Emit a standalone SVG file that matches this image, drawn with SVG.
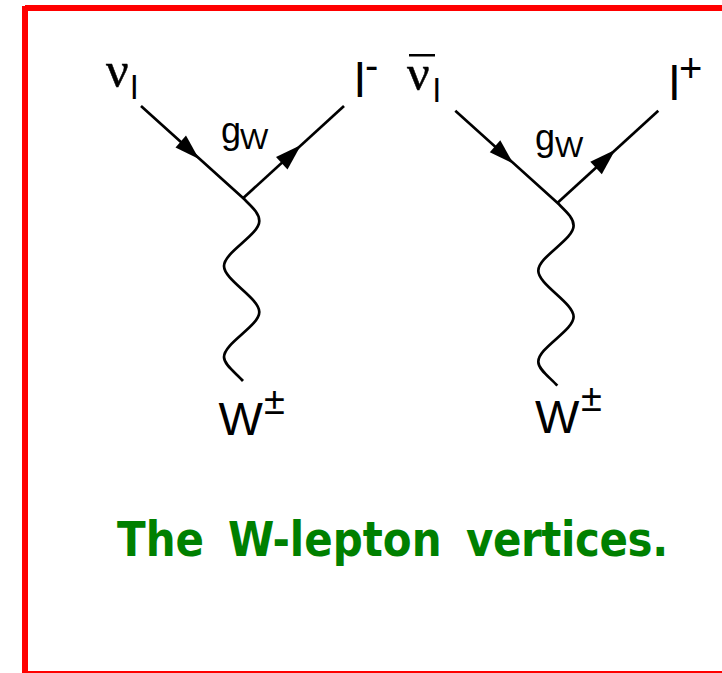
<svg xmlns="http://www.w3.org/2000/svg" width="722" height="673" viewBox="0 0 722 673">
<style>
.l{fill:none;stroke:#000;stroke-width:2.7;stroke-linecap:butt}
.h{fill:#000}
text{fill:#000;font-family:"Liberation Sans",Arial,sans-serif}
.s{font-family:"Liberation Serif","Times New Roman",serif;stroke:#000;stroke-width:.5}
.cap{fill:#008000;font-family:"DejaVu Sans",sans-serif;font-weight:bold;font-size:42px}
</style>
<defs>
<g id="diagram-lines">
<path class="l" d="M141 106L243.3 198.300C252 207 259.300 213 259.300 221C259.300 235 224 252 224 266C224 280 259.300 298 259.300 312C259.300 326 224 343 224 357C224 365 236 373 243 381"/>
<path class="l" d="M243.300 198L344 106"/>
<path class="h" d="M199 159L175.500 147.500L186 135.500Z"/>
<path class="h" d="M301 145L276 157L287.500 169.500Z"/>
</g>
</defs>
<g id="frame" fill="#f00">
<rect x="25" y="5" width="697" height="6"/>
<rect x="22" y="6" width="6" height="667"/>
<rect x="28" y="671" width="694" height="2"/>
</g>
<g id="connectors">
<use href="#diagram-lines"/>
<use href="#diagram-lines" x="314.300" y="4.700"/>
</g>
<g id="node-left-nu"><text class="s" x="106" y="87" font-size="50">ν</text><text x="130.500" y="99" font-size="34">l</text></g>
<g id="node-left-lepton"><text x="354.500" y="97" font-size="48">l</text><text x="365" y="79" font-size="40">-</text></g>
<g id="node-left-g"><text x="221" y="143" font-size="36">g</text><text x="240" y="149" font-size="30">W</text></g>
<g id="node-left-w"><text x="218.500" y="435" font-size="47">W</text><text x="264" y="414" font-size="38">±</text></g>
<g id="node-right-nu"><rect x="409" y="54" width="26" height="2.500" fill="#000"/><text class="s" x="407" y="90" font-size="50">ν</text><text x="433" y="102" font-size="34">l</text></g>
<g id="node-right-lepton"><text x="669" y="100" font-size="48">l</text><text x="679" y="82" font-size="40">+</text></g>
<g id="node-right-g"><text x="535" y="150" font-size="36">g</text><text x="555" y="157" font-size="30">W</text></g>
<g id="node-right-w"><text x="535" y="433" font-size="47">W</text><text x="581" y="411" font-size="38">±</text></g>
<g id="caption"><text class="cap" transform="translate(0 556) scale(1 1.14)" y="0"><tspan x="117">The </tspan><tspan x="228">W-lepton </tspan><tspan x="466" letter-spacing="-0.4">vertices.</tspan></text></g>
</svg>
